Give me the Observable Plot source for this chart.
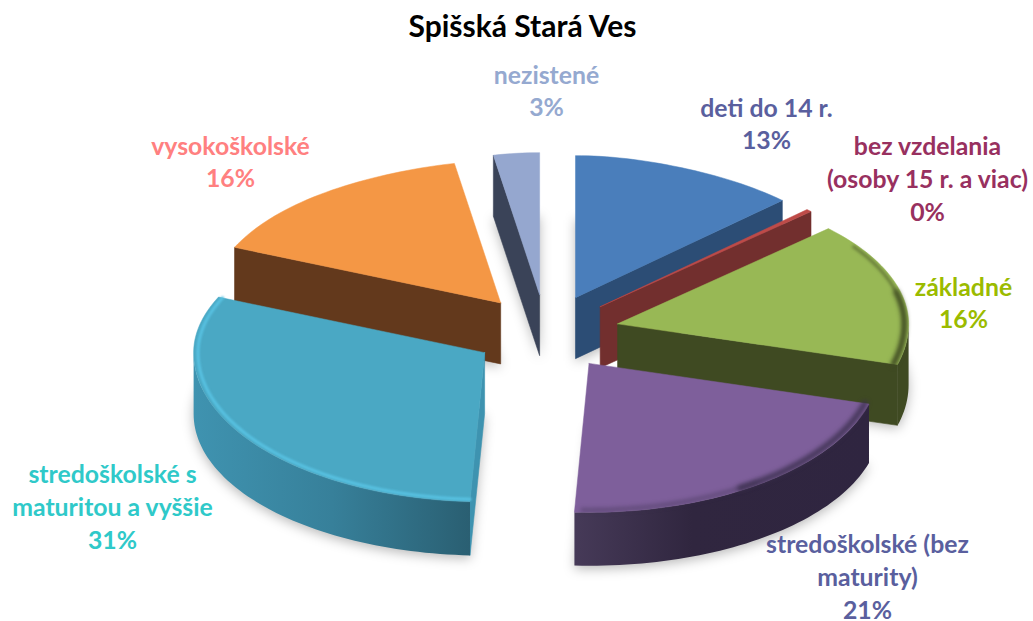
<!DOCTYPE html>
<html><head><meta charset="utf-8">
<script src="https://cdn.jsdelivr.net/npm/d3@7"></script>
<script src="https://cdn.jsdelivr.net/npm/@observablehq/plot@0.6"></script>
<style>
html,body{margin:0;padding:0;background:#fff}
#title{height:47px;width:1045px;text-align:center;font:700 30px/50px Lato,sans-serif;color:#000}
</style></head><body>
<div id="title">Spišská Stará Ves</div>
<div id="chart"></div>
<script>
// data
const categories = ["deti do 14 r.","bez vzdelania\n(osoby 15 r. a viac)","základné","stredoškolské (bez\nmaturity)","stredoškolské s\nmaturitou a vyššie","vysokoškolské","nezistené"];
const shares = [13, 0.3, 16.1, 21.4, 30.6, 15.6, 3];
const percentLabels = ["13%","0%","16%","21%","31%","16%","3%"];
// styles
const topColors  = ["#4a7ebb","#be4b48","#98b855","#7e5f9b","#4aa8c4","#f49745","#95a7cf"];
const wallColors = ["#2c4d75","#722f2e","#3f4a22","#2f2540","#3e93b0","#63391c","#3a4358"];
const wallStops  = {3:[["#463a58",0],["#30263f",0.4],["#2f2540",1]], 4:[["#3f93b0",0],["#37809a",0.5],["#2a5f72",1]]};
// rim shading per slice: [colour, start trim, end trim (fractions of the arc), width, opacity, blur]
const bevels = {
  2:[["#3f4a22",0.15,0,3,0.55,"blur(1.5px)"],["#3f4a22",0.5,0,6,0.8,"blur(2.2px)"]],
  3:[["#3a2e4c",0,0.45,6,0.8,"blur(2.2px)"],["#3a2e4c",0.5,0.02,4,0.45,"blur(2px)"]],
  4:[["#58c2e2",0,0,3,1,"blur(1.2px)"]]
};
const labelColors= ["#5a5f9e","#98305f","#9bbb00","#5a5f9e","#2fc9c9","#ff8080","#95a9d0"];
// layout
const labelX = [766,927,963,867,112,230,546];
const labelY = [122,177,301,575,505,160,89];
const paintOrder = [6,5,0,1,2,4,3];
const cx=546, cy=332, ex=73, ey=38, Rx=291, RyBack=142, RyFront=149;

const arcs = d3.pie().sort(null).value(d=>d)(shares);
const mid = a => (a.startAngle+a.endAngle)/2;
function pt(i,t,r=1){
  const m=mid(arcs[i]), c=Math.cos(t), s=Math.sin(t);
  const fore = c>0 ? 1-0.04*c*c-0.13*Math.pow(c,8) : 1;
  return [cx+ex*Math.sin(m)+r*Rx*s*fore, cy-ey*Math.cos(m)-r*(c>0?RyBack:RyFront)*c];
}
const depth = y => y<360 ? 61 : 61-(y-360)*0.05;
const down = p => [p[0],p[1]+depth(p[1])];
const arcSteps = (a,b) => { const n=Math.max(2,Math.ceil((b-a)/(Math.PI/120))); return d3.range(n+1).map(k=>a+(b-a)*k/n); };

let pid=0;
const poly=(pts,color)=>{ const id=pid++; return [...pts,pts[0]].map(p=>({x:p[0],y:p[1],id,color})); };

const marks=[];
const gradientDefs=[];
for(const i of paintOrder){
  const a=arcs[i], s0=a.startAngle, s1=a.endAngle;
  const apex=pt(i,0,0);
  const topPts=[apex,...arcSteps(s0,s1).map(t=>pt(i,t))];
  marks.push(Plot.line(poly(topPts.map(down).map(p=>[p[0],p[1]+3]),"#000"),{x:"x",y:"y",z:"id",fill:"#000",fillOpacity:0.28,stroke:"none",imageFilter:"blur(6px)"}));
  const walls=[];
  if(Math.sin(s0)<-1e-6){ const p=pt(i,s0); walls.push(...poly([apex,p,down(p),down(apex)],wallColors[i])); }
  if(Math.sin(s1)>1e-6){ const p=pt(i,s1); walls.push(...poly([apex,p,down(p),down(apex)],wallColors[i])); }
  if(walls.length) marks.push(Plot.line(walls,{x:"x",y:"y",z:"id",fill:"color",stroke:"color",strokeWidth:0.6}));
  const lo=Math.max(s0,Math.PI/2), hi=Math.min(s1,3*Math.PI/2);
  if(hi>lo){
    const rimPts=arcSteps(lo,hi).map(t=>pt(i,t));
    const shape=[...rimPts,...rimPts.map(down).reverse()];
    let fill=wallColors[i];
    if(wallStops[i]){
      const xs=d3.extent(rimPts,p=>p[0]);
      fill=`url(#wall${i})`;
      gradientDefs.push({id:`wall${i}`,x1:xs[0],x2:xs[1],stops:wallStops[i]});
    }
    marks.push(Plot.line(poly(shape,""),{x:"x",y:"y",z:"id",fill,stroke:"none"}));
  }
  marks.push(Plot.line(poly(topPts,topColors[i]),{x:"x",y:"y",z:"id",fill:"color",stroke:"color",strokeWidth:0.5}));
  for(const [c,t0,t1,w,op,blur] of (bevels[i]||[])){
    const span=s1-s0;
    const rim=arcSteps(s0+span*t0,s1-span*t1).map(t=>{const p=pt(i,t,0.985);return {x:p[0],y:p[1]};});
    marks.push(Plot.line(rim,{x:"x",y:"y",stroke:c,strokeWidth:w,strokeOpacity:op,imageFilter:blur}));
  }
}
const labelRows=categories.map((c,i)=>({text:`${c}\n${percentLabels[i]}`,x:labelX[i],y:labelY[i],color:labelColors[i]}));
marks.push(Plot.text(labelRows,{x:"x",y:"y",text:"text",fill:"color",fontFamily:"Lato, sans-serif",fontWeight:700,fontSize:24.8,lineHeight:1.32,textAnchor:"middle"}));

const defsMark=()=>{
  const defs=d3.create("svg:defs");
  for(const g of gradientDefs){
    const el=defs.append("linearGradient").attr("id",g.id).attr("gradientUnits","userSpaceOnUse")
      .attr("x1",g.x1).attr("x2",g.x2).attr("y1",0).attr("y2",0);
    for(const [color,off] of g.stops) el.append("stop").attr("offset",off).attr("stop-color",color);
  }
  return defs.node();
};

const chart=Plot.plot({
  width:1033,height:574,margin:0,
  x:{domain:[0,1033],range:[0,1033],axis:null},
  y:{domain:[47,621],range:[0,574],axis:null},
  color:{type:"identity"},
  style:{background:"#fff"},
  marks:[defsMark,...marks]
});
document.getElementById("chart").append(chart);
</script>
</body></html>
